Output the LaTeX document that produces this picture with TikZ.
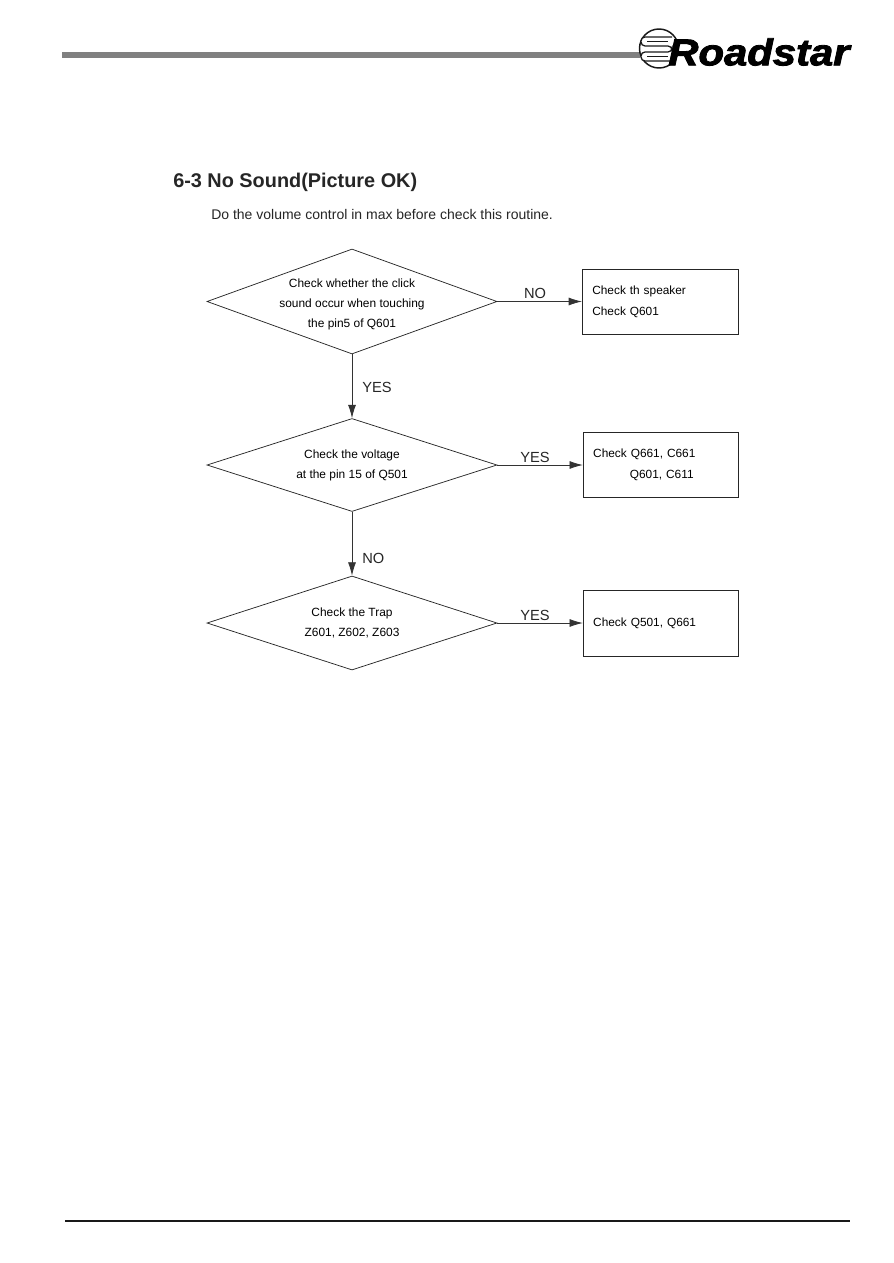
\documentclass[tikz,border=0pt]{standalone}
\usepackage{fontspec}
\setmainfont{Liberation Sans}
\newfontfamily\logofont[BoldItalicFeatures={FakeBold=2.2}]{Liberation Sans}
\usetikzlibrary{shapes.geometric,arrows.meta}
\tikzset{
  x=0.75pt,y=-0.75pt,
  decision/.style={draw=black!85,line width=0.55pt,diamond,shape aspect=2.76,inner xsep=-30pt,inner ysep=-12pt,minimum width=217.5pt,align=center,font=\fontsize{8.95}{15}\selectfont},
  result/.style={draw=black!85,line width=0.55pt,rectangle,inner xsep=7.5pt,inner ysep=0pt,minimum width=116.7pt,text width=101.7pt,align=left,minimum height=48.75pt,font=\fontsize{8.9}{15.75}\selectfont},
  flow/.style={draw=black!80,line width=0.6pt,-{Latex[length=10pt,width=6pt]}},
  flowlabel/.style={inner sep=0pt,font=\fontsize{11}{13}\selectfont,text=black!85},
  plain/.style={inner sep=0pt,anchor=west,text=black!85},
  logostripe/.style={draw=black!90,line width=0.95pt,rounded corners=3pt,fill=white}
}
\begin{document}
\begin{tikzpicture}
\useasboundingbox (0,0) rectangle (893,1263);
\fill[white] (0,0) rectangle (893,1263);
% header and footer
\fill[black!50] (62,52) rectangle (640,58);
\fill[black!90] (65,1219.5) rectangle (850,1221.5);
% logo
\draw[black!90,line width=1.1pt,fill=white] (659,48.5) circle[radius=19.5];
\draw[logostripe] (672,37) -- (641,37) -- (641,46) -- (672,46) -- (672,52) -- (641,52) -- (641,61) -- (672,61);
\draw[black!90,line width=0.95pt] (647,41.5) -- (668,41.5) (647,56.5) -- (668,56.5);
\node[plain,xscale=1.12,font=\logofont\bfseries\itshape\fontsize{28}{28}\selectfont,text=black] (brand) at (668,52) {Roadstar};
% titles
\node[plain,font=\bfseries\fontsize{14.9}{17}\selectfont] (title) at (173,182) {6-3 No Sound(Picture OK)};
\node[plain,font=\fontsize{10.5}{12}\selectfont] (subtitle) at (211,214.5) {Do the volume control in max before check this routine.};
% decisions
\node[decision,minimum height=78.75pt] (d1) at (352,301.5) {\rule{0pt}{11pt}Check whether the click\\sound occur when touching\\the pin5 of Q601};
\node[decision,minimum height=69.75pt] (d2) at (352,465) {Check the voltage\\at the pin 15 of Q501};
\node[decision,minimum height=70.5pt] (d3) at (352,623) {Check the Trap\\Z601, Z602, Z603};
% results
\node[result,minimum width=117.3pt,text width=102.3pt] (b1) at (660.5,301.5) {Check th speaker\\Check Q601};
\node[result] (b2) at (661,465) {Check Q661, C661\\\hspace*{27.5pt}Q601, C611};
\node[result,minimum height=49.5pt] (b3) at (661,623) {Check Q501, Q661};
% connectors
\draw[flow] (d1.east) -- (b1.west);
\draw[flow] (d2.east) -- (b2.west);
\draw[flow] (d3.east) -- (b3.west);
\draw[flow] (d1.south) -- (d2.north);
\draw[flow] (d2.south) -- (d3.north);
% labels
\node[flowlabel] (l1) at (535,293) {NO};
\node[flowlabel] (l2) at (535,457) {YES};
\node[flowlabel] (l3) at (535,615) {YES};
\node[flowlabel,anchor=west] (l4) at (362,387) {YES};
\node[flowlabel,anchor=west] (l5) at (362,558) {NO};
\end{tikzpicture}
\end{document}
